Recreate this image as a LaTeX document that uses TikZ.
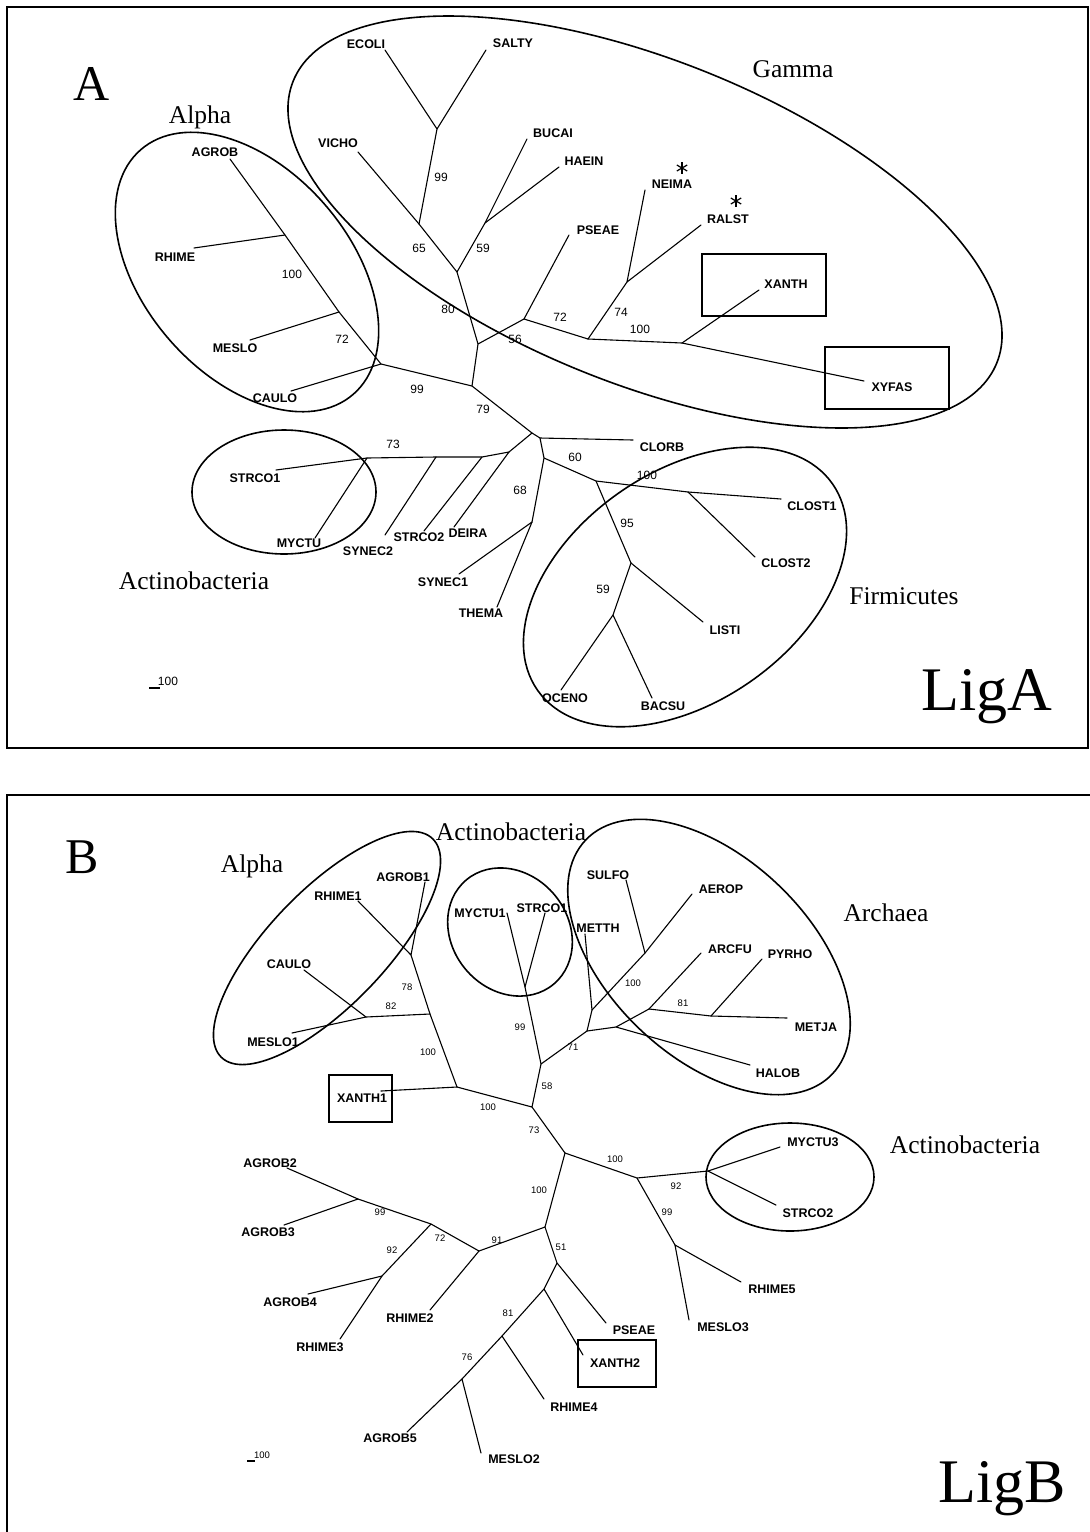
\documentclass[tikz,border=0pt]{standalone}
\usepackage{fontspec}
\setmainfont{Liberation Serif}
\newfontfamily\arialf{Liberation Sans}
\begin{document}
\begin{tikzpicture}[x=1pt,y=-1pt,
  br/.style={line width=1.1pt, line cap=round, line join=round},
  ring/.style={line width=1.6pt},
  framel/.style={line width=1.8pt},
  boxl/.style={line width=1.5pt},
  leaf/.style={font=\arialf\bfseries\fontsize{12.5}{14}\selectfont, inner sep=0pt},
  bsa/.style={font=\arialf\fontsize{12}{14}\selectfont, inner sep=0pt},
  bsb/.style={font=\arialf\fontsize{9.5}{11}\selectfont, inner sep=0pt},
  grp/.style={font=\fontsize{25.5}{30}\selectfont, anchor=base, inner sep=0pt},
  panelletter/.style={font=\fontsize{50}{60}\selectfont, anchor=base, inner sep=0pt},
  ligtxt/.style={font=\fontsize{62}{70}\selectfont, anchor=base, inner sep=0pt}]
\useasboundingbox[fill=white] (0,0) rectangle (1090,1532);

% ================= PANEL A =================
\draw[framel] (7,7) rectangle (1088,748);
\node[panelletter] (pA) at (92,100) {A};
\node[ligtxt] (ligA) at (987,710) {LigA};
\node[grp] (gAlphaA) at (200,123) {Alpha};
\node[grp] (gGamma) at (793,77) {Gamma};
\node[grp] (gActA) at (194,589) {Actinobacteria};
\node[grp] (gFirm) at (904,604) {Firmicutes};

% group outlines
\draw[ring,rotate around={-21.8:(645,222)}] (645,222) ellipse [x radius=379, y radius=162];
\draw[ring,rotate around={-49:(247,272)}] (247,272) ellipse [x radius=162, y radius=103];
\draw[ring] (284,492) ellipse [x radius=92, y radius=62];
\draw[ring,rotate around={35:(685,587)}] (685,587) ellipse [x radius=180, y radius=115];
\draw[boxl] (702,254) rectangle (826,316);
\draw[boxl] (825,347) rectangle (949,409);

% coordinates
\coordinate (aAGROB) at (230,159);
\coordinate (aRH) at (285,235);
\coordinate (aME) at (339,312);
\coordinate (aAl) at (381,364);
\coordinate (lRHIME) at (194,248);
\coordinate (lMESLO) at (250,340);
\coordinate (lCAULO) at (291,391);
\coordinate (aR1) at (472,386);
\coordinate (aR0) at (532,433);
\coordinate (aG1) at (478,344);
\coordinate (aG2) at (457,272);
\coordinate (aV) at (419,224);
\coordinate (lVICHO) at (358,152);
\coordinate (aE) at (437,129);
\coordinate (lECOLI) at (385,50);
\coordinate (lSALTY) at (486,50);
\coordinate (aB) at (485,223);
\coordinate (lBUCAI) at (527,139);
\coordinate (lHAEIN) at (559,167);
\coordinate (aP) at (524,319);
\coordinate (lPSEAE) at (569,235);
\coordinate (aN) at (588,339);
\coordinate (aNR) at (627,282);
\coordinate (lNEIMA) at (645,190);
\coordinate (lRALST) at (701,225);
\coordinate (aX) at (682,343);
\coordinate (lXANTH) at (759,290);
\coordinate (lXYFAS) at (864,381);
\coordinate (aC) at (540,438);
\coordinate (lCLORB) at (633,440);
\coordinate (aF0) at (544,458);
\coordinate (a68) at (532,522);
\coordinate (lSYNEC1) at (459,574);
\coordinate (lTHEMA) at (497,607);
\coordinate (aF1) at (596,481);
\coordinate (aCl) at (688,492);
\coordinate (lCLOST1) at (781,499);
\coordinate (lCLOST2) at (755,557);
\coordinate (aF2) at (631,563);
\coordinate (lLISTI) at (703,622);
\coordinate (aF3) at (613,615);
\coordinate (lOCENO) at (561,690);
\coordinate (lBACSU) at (652,698);
\coordinate (aK1) at (509,452);
\coordinate (lDEIRA) at (454,527);
\coordinate (aK2) at (482,457);
\coordinate (lSTRCO2) at (424,531);
\coordinate (aK3) at (436,457);
\coordinate (lSYNEC2) at (385,535);
\coordinate (aK4) at (367,458);
\coordinate (lSTRCO1) at (276,470);
\coordinate (lMYCTU) at (315,538);

% branches
\draw[br] (aAGROB) -- (aRH) -- (aME) -- (aAl);
\draw[br] (lRHIME) -- (aRH);
\draw[br] (lMESLO) -- (aME);
\draw[br] (lCAULO) -- (aAl) -- (aR1) -- (aR0);
\draw[br] (aR1) -- (aG1) -- (aG2) -- (aV) -- (lVICHO);
\draw[br] (aV) -- (aE) -- (lECOLI);
\draw[br] (aE) -- (lSALTY);
\draw[br] (aG2) -- (aB) -- (lBUCAI);
\draw[br] (aB) -- (lHAEIN);
\draw[br] (aG1) -- (aP) -- (lPSEAE);
\draw[br] (aP) -- (aN) -- (aNR) -- (lNEIMA);
\draw[br] (aNR) -- (lRALST);
\draw[br] (aN) -- (aX) -- (lXANTH);
\draw[br] (aX) -- (lXYFAS);
\draw[br] (aR0) -- (aC) -- (lCLORB);
\draw[br] (aC) -- (aF0) -- (a68) -- (lSYNEC1);
\draw[br] (a68) -- (lTHEMA);
\draw[br] (aF0) -- (aF1) -- (aCl) -- (lCLOST1);
\draw[br] (aCl) -- (lCLOST2);
\draw[br] (aF1) -- (aF2) -- (lLISTI);
\draw[br] (aF2) -- (aF3) -- (lOCENO);
\draw[br] (aF3) -- (lBACSU);
\draw[br] (aR0) -- (aK1) -- (lDEIRA);
\draw[br] (aK1) -- (aK2) -- (lSTRCO2);
\draw[br] (aK2) -- (aK3) -- (lSYNEC2);
\draw[br] (aK3) -- (aK4) -- (lSTRCO1);
\draw[br] (aK4) -- (lMYCTU);

% leaf labels
\node[leaf] (tECOLI) at (366,44) {ECOLI};
\node[leaf] (tSALTY) at (513,43) {SALTY};
\node[leaf] (tVICHO) at (338,143) {VICHO};
\node[leaf] (tBUCAI) at (553,133) {BUCAI};
\node[leaf] (tHAEIN) at (584,161) {HAEIN};
\node[leaf] (tNEIMA) at (672,184) {NEIMA};
\node[leaf] (tRALST) at (728,219) {RALST};
\node[leaf] (tPSEAE) at (598,230) {PSEAE};
\node[leaf] (tXANTH) at (786,284) {XANTH};
\node[leaf] (tXYFAS) at (892,387) {XYFAS};
\node[leaf] (tAGROB) at (215,152) {AGROB};
\node[leaf] (tRHIME) at (175,257) {RHIME};
\node[leaf] (tMESLO) at (235,348) {MESLO};
\node[leaf] (tCAULO) at (275,398) {CAULO};
\node[leaf] (tCLORB) at (662,447) {CLORB};
\node[leaf] (tCLOST1) at (812,506) {CLOST1};
\node[leaf] (tCLOST2) at (786,563) {CLOST2};
\node[leaf] (tLISTI) at (725,630) {LISTI};
\node[leaf] (tOCENO) at (565,698) {OCENO};
\node[leaf] (tBACSU) at (663,706) {BACSU};
\node[leaf] (tSTRCO1) at (255,478) {STRCO1};
\node[leaf] (tMYCTU) at (299,543) {MYCTU};
\node[leaf] (tSYNEC2) at (368,551) {SYNEC2};
\node[leaf] (tSTRCO2) at (419,537) {STRCO2};
\node[leaf] (tDEIRA) at (468,533) {DEIRA};
\node[leaf] (tSYNEC1) at (443,582) {SYNEC1};
\node[leaf] (tTHEMA) at (481,613) {THEMA};

% asterisks
\foreach \cx/\cy in {682/168, 736/201}{
  \draw[line width=1.2pt] (\cx,\cy-6) -- (\cx,\cy+6);
  \draw[line width=1.2pt] (\cx-5.2,\cy-3) -- (\cx+5.2,\cy+3);
  \draw[line width=1.2pt] (\cx-5.2,\cy+3) -- (\cx+5.2,\cy-3);
}

% bootstrap values A
\node[bsa] (sa1) at (441,177) {99};
\node[bsa] (sa2) at (419,248) {65};
\node[bsa] (sa3) at (483,248) {59};
\node[bsa] (sa4) at (292,274) {100};
\node[bsa] (sa5) at (342,339) {72};
\node[bsa] (sa6) at (448,309) {80};
\node[bsa] (sa7) at (515,339) {56};
\node[bsa] (sa8) at (417,389) {99};
\node[bsa] (sa9) at (483,409) {79};
\node[bsa] (sa10) at (560,317) {72};
\node[bsa] (sa11) at (621,312) {74};
\node[bsa] (sa12) at (640,329) {100};
\node[bsa] (sa13) at (393,444) {73};
\node[bsa] (sa14) at (520,490) {68};
\node[bsa] (sa15) at (575,457) {60};
\node[bsa] (sa16) at (647,475) {100};
\node[bsa] (sa17) at (627,523) {95};
\node[bsa] (sa18) at (603,589) {59};

% scale bar A
\coordinate (sbA1) at (149,688);
\coordinate (sbA2) at (160,688);
\draw[line width=1.2pt] (sbA1) -- (sbA2);
\node[bsa] (sbAt) at (168,681) {100};

% ================= PANEL B =================
\draw[framel] (7,1532) -- (7,795) -- (1090,795);
\node[panelletter] (pB) at (82,873) {B};
\node[ligtxt] (ligB) at (1002,1502) {LigB};
\node[grp] (gAlphaB) at (252,872) {Alpha};
\node[grp] (gActB1) at (511,840) {Actinobacteria};
\node[grp] (gArch) at (886,921) {Archaea};
\node[grp] (gActB2) at (965,1153) {Actinobacteria};

\draw[ring,rotate around={46:(327,948)}] (327,948) ellipse [x radius=152, y radius=58];
\draw[ring,rotate around={-50:(510,932)}] (510,932) ellipse [x radius=68, y radius=58];
\draw[ring,rotate around={-43.5:(709,957)}] (709,957) ellipse [x radius=170, y radius=100];
\draw[ring] (790,1177) ellipse [x radius=84, y radius=54];
\draw[boxl] (329,1075) rectangle (392,1122);
\draw[boxl] (578,1340) rectangle (656,1387);

\coordinate (bAG1) at (425,882);
\coordinate (bRH1) at (358,901);
\coordinate (b78) at (411,955);
\coordinate (b82) at (430,1014);
\coordinate (bCM) at (366,1017);
\coordinate (lbCAULO) at (304,970);
\coordinate (lbMESLO1) at (292,1033);
\coordinate (bX) at (457,1087);
\coordinate (lbXANTH1) at (381,1091);
\coordinate (bR1) at (532,1107);
\coordinate (b58) at (541,1064);
\coordinate (bS) at (525,987);
\coordinate (lbMYCTU1) at (507,913);
\coordinate (lbSTRCO1) at (545,913);
\coordinate (b71) at (587,1031);
\coordinate (bMT) at (592,1010);
\coordinate (lbMETTH) at (585,934);
\coordinate (bSA) at (645,953);
\coordinate (lbSULFO) at (626,880);
\coordinate (lbAEROP) at (692,894);
\coordinate (bH) at (616,1027);
\coordinate (lbHALOB) at (750,1065);
\coordinate (bAR) at (649,1009);
\coordinate (lbARCFU) at (701,953);
\coordinate (b81) at (711,1016);
\coordinate (lbMETJA) at (787,1018);
\coordinate (lbPYRHO) at (762,959);
\coordinate (b73) at (565,1153);
\coordinate (b100) at (637,1178);
\coordinate (bAct) at (708,1171);
\coordinate (lbMYCTU3) at (780,1147);
\coordinate (lbSTRCO2) at (776,1205);
\coordinate (b99) at (675,1245);
\coordinate (lbRHIME5) at (741,1282);
\coordinate (lbMESLO3) at (689,1320);
\coordinate (bL) at (545,1227);
\coordinate (b91) at (479,1251);
\coordinate (lbRHIME2) at (430,1310);
\coordinate (b72) at (431,1224);
\coordinate (b99b) at (358,1199);
\coordinate (lbAGROB2) at (287,1168);
\coordinate (lbAGROB3) at (284,1225);
\coordinate (b92) at (382,1276);
\coordinate (lbAGROB4) at (308,1294);
\coordinate (lbRHIME3) at (340,1339);
\coordinate (b51) at (557,1263);
\coordinate (lbPSEAE) at (606,1323);
\coordinate (bXP) at (544,1289);
\coordinate (lbXANTH2) at (583,1355);
\coordinate (b81b) at (502,1336);
\coordinate (lbRHIME4) at (544,1399);
\coordinate (b76) at (462,1379);
\coordinate (lbMESLO2) at (481,1453);
\coordinate (lbAGROB5) at (407,1432);

\draw[br] (bAG1) -- (b78) -- (bRH1);
\draw[br] (b78) -- (b82) -- (bX);
\draw[br] (b82) -- (bCM) -- (lbCAULO);
\draw[br] (bCM) -- (lbMESLO1);
\draw[br] (bX) -- (lbXANTH1);
\draw[br] (bX) -- (bR1) -- (b58) -- (bS) -- (lbMYCTU1);
\draw[br] (bS) -- (lbSTRCO1);
\draw[br] (b58) -- (b71) -- (bMT) -- (lbMETTH);
\draw[br] (bMT) -- (bSA) -- (lbSULFO);
\draw[br] (bSA) -- (lbAEROP);
\draw[br] (b71) -- (bH) -- (lbHALOB);
\draw[br] (bH) -- (bAR) -- (lbARCFU);
\draw[br] (bAR) -- (b81) -- (lbMETJA);
\draw[br] (b81) -- (lbPYRHO);
\draw[br] (bR1) -- (b73) -- (b100) -- (bAct) -- (lbMYCTU3);
\draw[br] (bAct) -- (lbSTRCO2);
\draw[br] (b100) -- (b99) -- (lbRHIME5);
\draw[br] (b99) -- (lbMESLO3);
\draw[br] (b73) -- (bL) -- (b91) -- (lbRHIME2);
\draw[br] (b91) -- (b72) -- (b99b) -- (lbAGROB2);
\draw[br] (b99b) -- (lbAGROB3);
\draw[br] (b72) -- (b92) -- (lbAGROB4);
\draw[br] (b92) -- (lbRHIME3);
\draw[br] (bL) -- (b51) -- (lbPSEAE);
\draw[br] (b51) -- (bXP) -- (lbXANTH2);
\draw[br] (bXP) -- (b81b) -- (lbRHIME4);
\draw[br] (b81b) -- (b76) -- (lbMESLO2);
\draw[br] (b76) -- (lbAGROB5);

\node[leaf] (uAGROB1) at (403,877) {AGROB1};
\node[leaf] (uRHIME1) at (338,896) {RHIME1};
\node[leaf] (uCAULO) at (289,964) {CAULO};
\node[leaf] (uMESLO1) at (273,1042) {MESLO1};
\node[leaf] (uXANTH1) at (362,1098) {XANTH1};
\node[leaf] (uMYCTU1) at (480,913) {MYCTU1};
\node[leaf] (uSTRCO1) at (542,908) {STRCO1};
\node[leaf] (uSULFO) at (608,875) {SULFO};
\node[leaf] (uAEROP) at (721,889) {AEROP};
\node[leaf] (uMETTH) at (598,928) {METTH};
\node[leaf] (uARCFU) at (730,949) {ARCFU};
\node[leaf] (uPYRHO) at (790,954) {PYRHO};
\node[leaf] (uMETJA) at (816,1027) {METJA};
\node[leaf] (uHALOB) at (778,1073) {HALOB};
\node[leaf] (uMYCTU3) at (813,1142) {MYCTU3};
\node[leaf] (uSTRCO2) at (808,1213) {STRCO2};
\node[leaf] (uRHIME5) at (772,1289) {RHIME5};
\node[leaf] (uMESLO3) at (723,1327) {MESLO3};
\node[leaf] (uPSEAE) at (634,1330) {PSEAE};
\node[leaf] (uXANTH2) at (615,1363) {XANTH2};
\node[leaf] (uRHIME4) at (574,1407) {RHIME4};
\node[leaf] (uMESLO2) at (514,1459) {MESLO2};
\node[leaf] (uAGROB5) at (390,1438) {AGROB5};
\node[leaf] (uAGROB2) at (270,1163) {AGROB2};
\node[leaf] (uAGROB3) at (268,1232) {AGROB3};
\node[leaf] (uAGROB4) at (290,1302) {AGROB4};
\node[leaf] (uRHIME3) at (320,1347) {RHIME3};
\node[leaf] (uRHIME2) at (410,1318) {RHIME2};

\node[bsb] (sb1) at (407,987) {78};
\node[bsb] (sb2) at (391,1006) {82};
\node[bsb] (sb3) at (428,1052) {100};
\node[bsb] (sb4) at (520,1027) {99};
\node[bsb] (sb5) at (488,1107) {100};
\node[bsb] (sb6) at (534,1130) {73};
\node[bsb] (sb7) at (547,1086) {58};
\node[bsb] (sb8) at (573,1047) {71};
\node[bsb] (sb9) at (633,983) {100};
\node[bsb] (sb10) at (683,1003) {81};
\node[bsb] (sb11) at (615,1159) {100};
\node[bsb] (sb12) at (676,1186) {92};
\node[bsb] (sb13) at (667,1212) {99};
\node[bsb] (sb14) at (539,1190) {100};
\node[bsb] (sb15) at (497,1240) {91};
\node[bsb] (sb16) at (561,1247) {51};
\node[bsb] (sb17) at (440,1238) {72};
\node[bsb] (sb18) at (380,1212) {99};
\node[bsb] (sb19) at (392,1250) {92};
\node[bsb] (sb20) at (508,1313) {81};
\node[bsb] (sb21) at (467,1357) {76};

\coordinate (sbB1) at (247,1461);
\coordinate (sbB2) at (255,1461);
\draw[line width=1.1pt] (sbB1) -- (sbB2);
\node[bsb] (sbBt) at (262,1455) {100};
\end{tikzpicture}
\end{document}
